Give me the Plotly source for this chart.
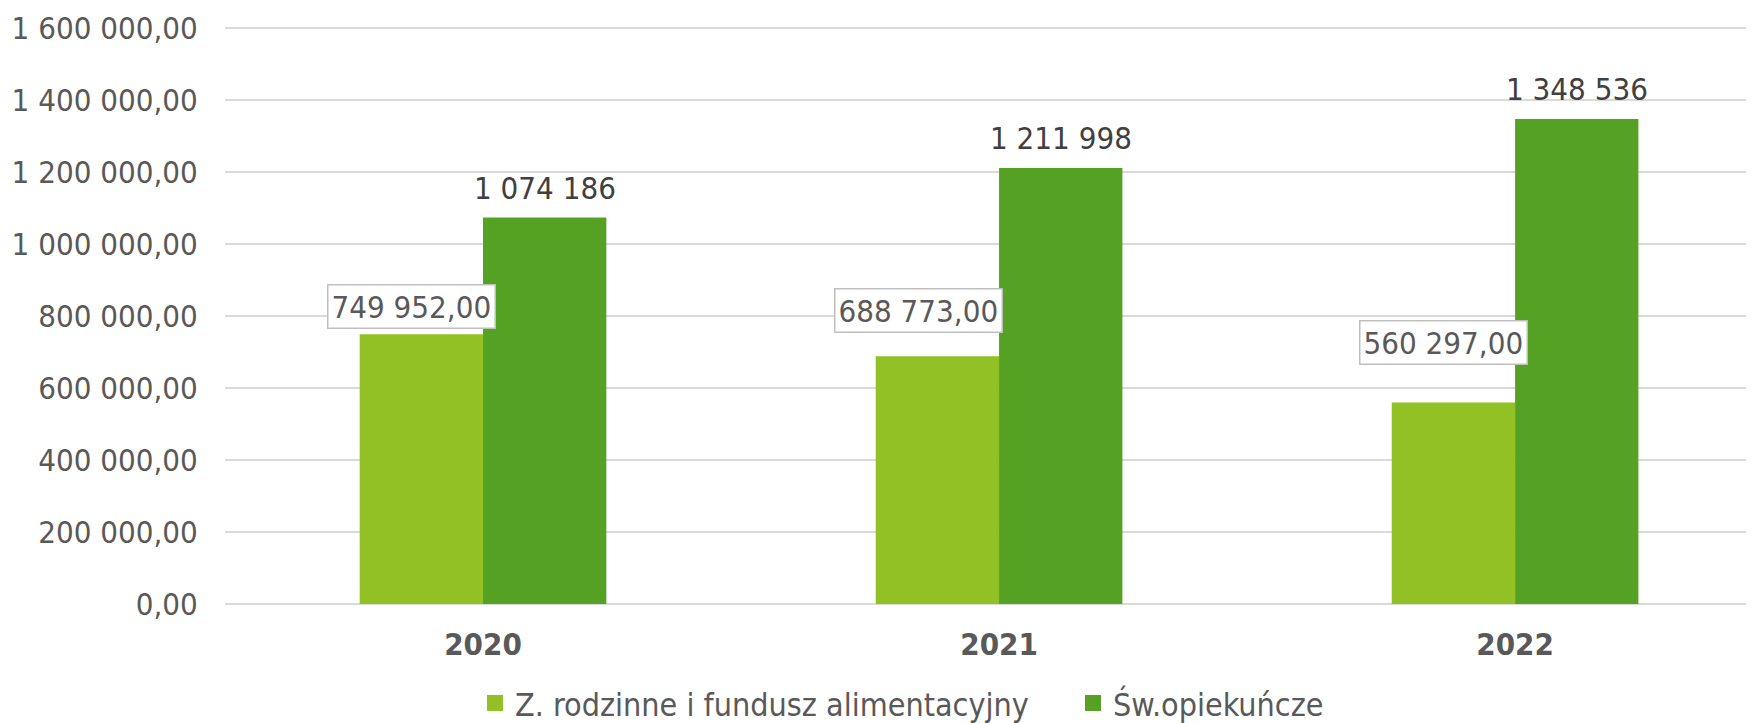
import plotly.graph_objects as go

years = ["2020", "2021", "2022"]
s1_name = "Z. rodzinne i fundusz alimentacyjny"
s2_name = "Św.opiekuńcze"
s1_values = [749952, 688773, 560297]
s2_values = [1074186, 1211998, 1348536]
s1_labels = ["749 952,00", "688 773,00", "560 297,00"]
s2_labels = ["1 074 186", "1 211 998", "1 348 536"]
y_tickvals = [0, 200000, 400000, 600000, 800000, 1000000, 1200000, 1400000, 1600000]
y_ticktext = ["0,00", "200 000,00", "400 000,00", "600 000,00", "800 000,00",
              "1 000 000,00", "1 200 000,00", "1 400 000,00", "1 600 000,00"]

# label placement tweaks (pixels)
s1_label_xshift = [-72, -81, -72]
s1_label_yshift = [5, 23, 37]

FONT = "DejaVu Sans Condensed, Roboto, sans-serif"
FS = 31
C1 = "#92C126"
C2 = "#55A124"

fig = go.Figure()
fig.add_trace(go.Bar(x=years, y=s1_values, name=s1_name, showlegend=False,
                     marker=dict(color=C1, line=dict(width=0))))
fig.add_trace(go.Bar(x=years, y=s2_values, name=s2_name, showlegend=False,
                     marker=dict(color=C2, line=dict(width=0))))
# legend entries with larger square keys
fig.add_trace(go.Scatter(x=[None], y=[None], mode="markers", name=s1_name,
                         marker=dict(symbol="square", size=16, color=C1, line=dict(width=0))))
fig.add_trace(go.Scatter(x=[None], y=[None], mode="markers", name=s2_name,
                         marker=dict(symbol="square", size=16, color=C2, line=dict(width=0))))

for i in range(len(years)):
    fig.add_annotation(x=i, y=s1_values[i], text=s1_labels[i], showarrow=False,
                       xref="x", yref="y", xanchor="center", yanchor="bottom",
                       xshift=s1_label_xshift[i], yshift=s1_label_yshift[i],
                       bgcolor="white", bordercolor="#BFBFBF", borderwidth=1.5, borderpad=3,
                       font=dict(family=FONT, size=FS, color="#595959"))
    fig.add_annotation(x=i, y=s2_values[i], text=s2_labels[i], showarrow=False,
                       xref="x", yref="y", xanchor="center", yanchor="bottom",
                       xshift=62, yshift=10,
                       font=dict(family=FONT, size=FS, color="#404040"))

# the page body has an 8px default margin, so the figure is sized 8px smaller
fig.update_layout(
    width=1746, height=715,
    margin=dict(l=217, r=0, t=19, b=119, autoexpand=False),
    paper_bgcolor="white", plot_bgcolor="white",
    barmode="group", bargap=0.522, bargroupgap=0,
    font=dict(family=FONT, size=FS, color="#595959"),
    showlegend=True,
    legend=dict(orientation="h", x=0.1635, xanchor="left", y=-0.172, yanchor="middle",
                entrywidth=553, itemwidth=30,
                font=dict(family=FONT, size=32, color="#595959")),
    xaxis=dict(type="category", categoryorder="array", categoryarray=years,
               range=[-0.5, 2.463], showgrid=False, showline=False,
               ticks="outside", ticklen=13, tickcolor="rgba(0,0,0,0)",
               tickvals=years, ticktext=["<b>" + y + "</b>" for y in years],
               tickfont=dict(family=FONT, size=FS, color="#595959")),
    yaxis=dict(range=[0, 1604000], tickvals=y_tickvals, ticktext=y_ticktext,
               showgrid=True, gridcolor="#D9D9D9", gridwidth=2, zeroline=True,
               zerolinecolor="#D9D9D9", zerolinewidth=2, showline=False,
               ticks="outside", ticklen=20, tickcolor="rgba(0,0,0,0)",
               tickfont=dict(family=FONT, size=FS, color="#595959")),
)

fig.write_html("out.html")
